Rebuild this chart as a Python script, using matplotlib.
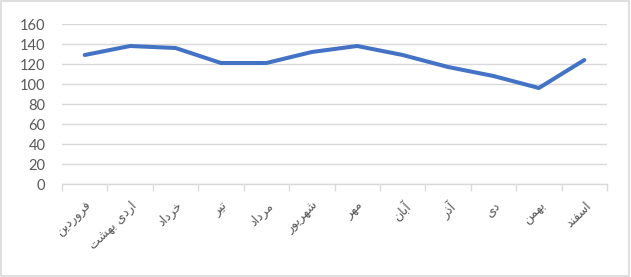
import matplotlib
matplotlib.use("Agg")
import matplotlib.pyplot as plt
from matplotlib.patches import Rectangle

months = ["فروردین", "اردی بهشت", "خرداد", "تیر", "مرداد", "شهریور",
          "مهر", "آبان", "آذر", "دی", "بهمن", "اسفند"]
values = [129, 138, 136, 121, 121, 132, 138, 129, 117, 108, 96, 124]
yticks = [0, 20, 40, 60, 80, 100, 120, 140, 160]

# minimal Persian shaping (matplotlib has no complex text layout)
FORMS = {
    "\u0627": ("\uFE8D", "\uFE8E", None, None),
    "\u0622": ("\uFE81", "\uFE82", None, None),
    "\u062F": ("\uFEA9", "\uFEAA", None, None),
    "\u0630": ("\uFEAB", "\uFEAC", None, None),
    "\u0631": ("\uFEAD", "\uFEAE", None, None),
    "\u0632": ("\uFEAF", "\uFEB0", None, None),
    "\u0648": ("\uFEED", "\uFEEE", None, None),
    "\u0628": ("\uFE8F", "\uFE90", "\uFE91", "\uFE92"),
    "\u062A": ("\uFE95", "\uFE96", "\uFE97", "\uFE98"),
    "\u062E": ("\uFEA5", "\uFEA6", "\uFEA7", "\uFEA8"),
    "\u0633": ("\uFEB1", "\uFEB2", "\uFEB3", "\uFEB4"),
    "\u0634": ("\uFEB5", "\uFEB6", "\uFEB7", "\uFEB8"),
    "\u0641": ("\uFED1", "\uFED2", "\uFED3", "\uFED4"),
    "\u0645": ("\uFEE1", "\uFEE2", "\uFEE3", "\uFEE4"),
    "\u0646": ("\uFEE5", "\uFEE6", "\uFEE7", "\uFEE8"),
    "\u0647": ("\uFEE9", "\uFEEA", "\uFEEB", "\uFEEC"),
    "\u06CC": ("\uFBFC", "\uFBFD", "\uFBFE", "\uFBFF"),
}


def shape(s):
    out = []
    for i, ch in enumerate(s):
        f = FORMS.get(ch)
        if f is None:
            out.append(ch)
            continue
        prev = s[i - 1] if i > 0 else None
        nxt = s[i + 1] if i + 1 < len(s) else None
        jp = prev in FORMS and FORMS[prev][2] is not None
        jn = f[2] is not None and nxt in FORMS
        if jp and jn:
            out.append(f[3])
        elif jp:
            out.append(f[1])
        elif jn:
            out.append(f[2])
        else:
            out.append(f[0])
    return "".join(reversed(out))


grid_c = "#D9D9D9"
text_c = "#595959"

fig = plt.figure(figsize=(6.31, 2.77), dpi=100)
fig.patches.append(Rectangle((0.001, 0.002), 0.996, 0.993, transform=fig.transFigure,
                             fill=False, edgecolor=grid_c, linewidth=1.2))
ax = fig.add_axes([62 / 631, 1 - 184 / 277, 545 / 631, 160 / 277])

x = list(range(len(months)))
ax.plot(x, values, color="#4472C4", linewidth=2.9, solid_capstyle="round",
        solid_joinstyle="round", zorder=3)

ax.set_xlim(-0.5, len(months) - 0.5)
ax.set_ylim(0, 160)
ax.set_yticks(yticks)
ax.set_yticklabels([str(v) for v in yticks], family=["Lato", "DejaVu Sans"],
                   fontsize=10.5, color=text_c)
ax.tick_params(axis="y", length=0, pad=12)
ax.yaxis.grid(True, color=grid_c, linewidth=1)
ax.set_axisbelow(True)

ax.set_xticks([i - 0.5 for i in range(len(months) + 1)], minor=False)
ax.set_xticklabels([])
ax.tick_params(axis="x", which="major", length=5, color=grid_c, width=1)
ax.set_xticks(x, minor=True)
ax.set_xticklabels([shape(m) for m in months], minor=True, rotation=45,
                   ha="right", va="top", rotation_mode="anchor",
                   family=["DejaVu Sans"], fontsize=9, color=text_c)
ax.tick_params(axis="x", which="minor", length=0, pad=11)

for s in ["top", "right", "left"]:
    ax.spines[s].set_visible(False)
ax.spines["bottom"].set_color(grid_c)
ax.spines["bottom"].set_linewidth(1)

fig.savefig("out.png", dpi=100)
